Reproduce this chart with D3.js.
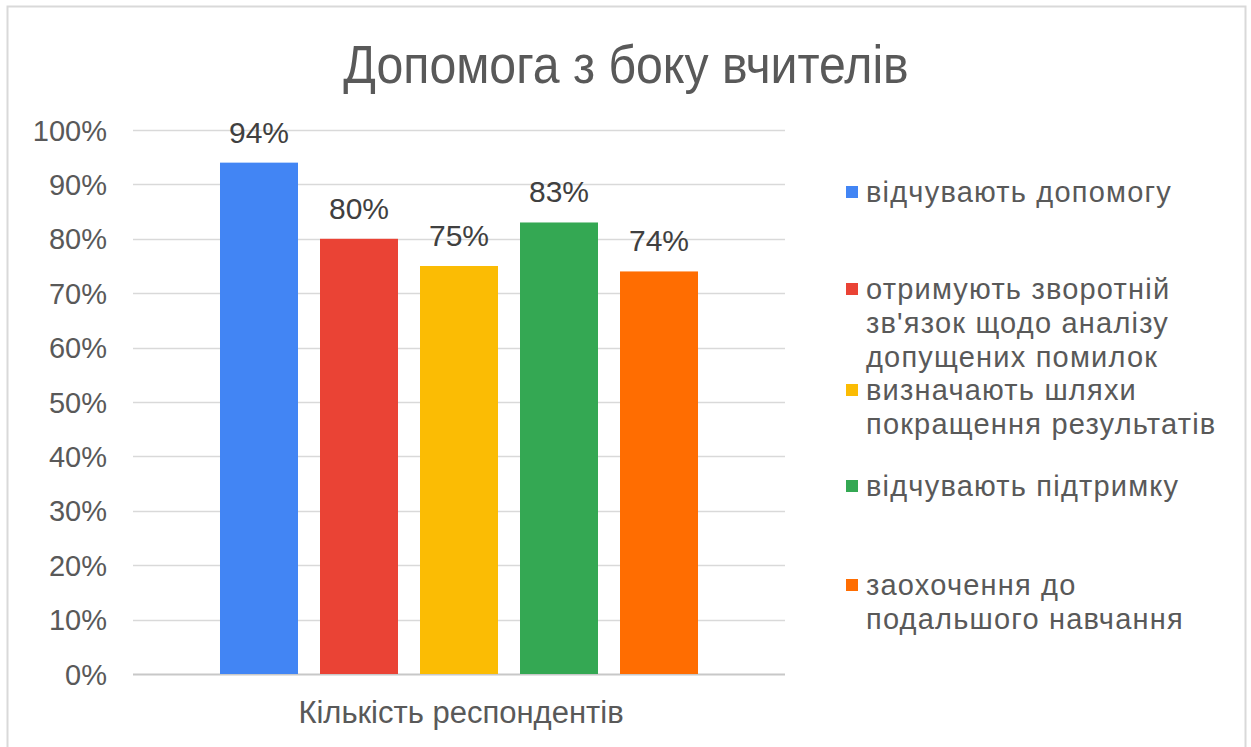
<!DOCTYPE html>
<html>
<head>
<meta charset="utf-8">
<script src="https://cdn.jsdelivr.net/npm/d3@7"></script>
<style>
  body { margin: 0; background: #fff; }
  text { font-family: "Liberation Sans", Arial, sans-serif; }
</style>
</head>
<body>
<div id="chart"></div>
<script>
var width = 1251, height = 747;

// data
var categories = ['Кількість респондентів'];
var seriesNames = [
    'відчувають допомогу',
    'отримують зворотній зв\'язок щодо аналізу допущених помилок',
    'визначають шляхи покращення результатів',
    'відчувають підтримку',
    'заохочення до подальшого навчання'
];
var seriesValues = [0.94, 0.80, 0.75, 0.83, 0.74];
var seriesColors = ['#4285f4', '#ea4335', '#fbbc04', '#34a853', '#ff6d01'];
var legendLines = [
    ['відчувають допомогу'],
    ['отримують зворотній', 'зв\'язок щодо аналізу', 'допущених помилок'],
    ['визначають шляхи', 'покращення результатів'],
    ['відчувають підтримку'],
    ['заохочення до', 'подальшого навчання']
];
var yTicks = [0, 0.1, 0.2, 0.3, 0.4, 0.5, 0.6, 0.7, 0.8, 0.9, 1.0];

var plot = { left: 133, right: 785, top: 130, bottom: 674 };

var svg = d3.select('#chart').append('svg')
    .attr('width', width)
    .attr('height', height);

// frame
svg.append('rect')
    .attr('x', 7.5).attr('y', 6.5)
    .attr('width', 1238).attr('height', 760)
    .attr('fill', '#fff')
    .attr('stroke', '#d9d9d9')
    .attr('stroke-width', 2);

// title (narrowed a bit, the original uses a condensed face)
svg.append('text')
    .attr('transform', 'translate(626,83) scale(0.91,1)')
    .attr('text-anchor', 'middle')
    .attr('fill', '#595959')
    .style('font-size', '53px')
    .text('Допомога з боку вчителів');

var y = d3.scaleLinear().domain([0, 1]).range([plot.bottom, plot.top]);

var x0 = d3.scaleBand().domain(categories)
    .range([plot.left, plot.right]).paddingInner(0).paddingOuter(0.182);

var x1 = d3.scaleBand().domain(d3.range(seriesValues.length))
    .range([0, x0.bandwidth()]).paddingInner(0.22).paddingOuter(0);

// gridlines
svg.append('g')
    .selectAll('line')
    .data(yTicks)
    .join('line')
    .attr('x1', plot.left).attr('x2', plot.right)
    .attr('y1', d => Math.round(y(d)) + 0.5)
    .attr('y2', d => Math.round(y(d)) + 0.5)
    .attr('stroke', d => d === 0 ? '#c8c8c8' : '#d9d9d9')
    .attr('stroke-width', d => d === 0 ? 2 : 1.5);

// y axis labels
var yAxis = d3.axisLeft(y).tickValues(yTicks).tickFormat(d3.format('.0%')).tickSize(0).tickPadding(0);
var yg = svg.append('g')
    .attr('transform', 'translate(107,0)')
    .call(yAxis);
yg.select('.domain').remove();
yg.selectAll('text')
    .attr('fill', '#595959')
    .style('font-size', '29px')
    .style('font-family', '"Liberation Sans", Arial, sans-serif')
    .attr('dy', '0.35em');

// bars
var rows = seriesValues.map((v, i) => ({ i: i, name: seriesNames[i], value: v, cat: categories[0] }));

var bars = svg.append('g')
    .attr('transform', 'translate(' + x0(categories[0]) + ',0)');

bars.selectAll('rect')
    .data(rows)
    .join('rect')
    .attr('x', d => x1(d.i))
    .attr('y', d => y(d.value))
    .attr('width', x1.bandwidth())
    .attr('height', d => y(0) - y(d.value))
    .attr('fill', d => seriesColors[d.i]);

bars.selectAll('text.val')
    .data(rows)
    .join('text')
    .attr('class', 'val')
    .attr('x', d => x1(d.i) + x1.bandwidth() / 2)
    .attr('y', d => y(d.value) - 20)
    .attr('text-anchor', 'middle')
    .attr('fill', '#404040')
    .style('font-size', '30px')
    .text(d => d3.format('.0%')(d.value));

// x axis label
svg.append('text')
    .attr('x', x0(categories[0]) + x0.bandwidth() / 2 + 2)
    .attr('y', 723)
    .attr('text-anchor', 'middle')
    .attr('fill', '#595959')
    .style('font-size', '31px')
    .text(categories[0]);

// legend
var legendTop = [192, 289, 390, 486, 585];
var lineH = 34;
var legend = svg.append('g');
legendLines.forEach(function (lines, i) {
    legend.append('rect')
        .attr('x', 846).attr('y', legendTop[i] - 6)
        .attr('width', 12).attr('height', 12)
        .attr('fill', seriesColors[i]);
    var t = legend.append('text')
        .attr('x', 866)
        .attr('y', legendTop[i])
        .attr('fill', '#595959')
        .style('font-size', '29px')
        .style('letter-spacing', '1.2px');
    lines.forEach(function (l, j) {
        t.append('tspan')
            .attr('x', 866)
            .attr('y', legendTop[i] + j * lineH)
            .attr('dy', '0.35em')
            .text(l);
    });
});
</script>
</body>
</html>
